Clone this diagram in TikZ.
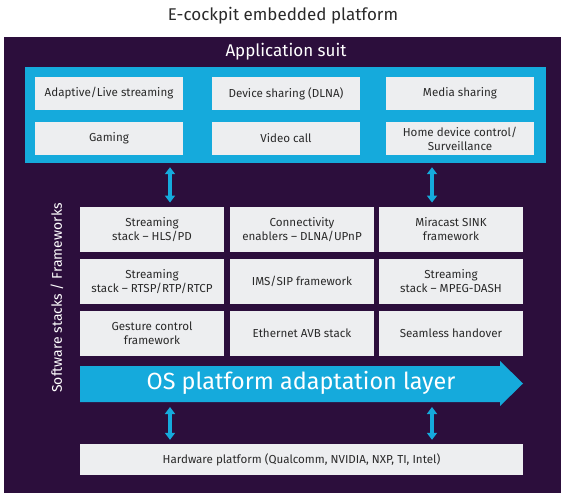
\documentclass[tikz,border=0pt]{standalone}
\usepackage{fontspec}
\setmainfont{Fira Sans}
\usetikzlibrary{arrows.meta}
\definecolor{platbg}{HTML}{2C0E3C}
\definecolor{appblue}{HTML}{15AADC}
\definecolor{boxfill}{HTML}{EDEEF0}
\definecolor{boxtext}{HTML}{2A2A2A}
\tikzset{
  stackbox/.style={fill=boxfill, text=boxtext, inner sep=0pt, align=center,
    font=\fontsize{11.6}{14}\selectfont},
  appbox/.style={stackbox, minimum width=148pt, minimum height=33pt},
  fwbox/.style={stackbox, minimum width=144pt, minimum height=45.5pt},
  biarrow/.style={draw=appblue, line width=3.5pt,
    {Triangle[width=10pt,length=7pt]}-{Triangle[width=10pt,length=7pt]}},
}
\begin{document}
\begin{tikzpicture}[x=1pt,y=-1pt]
\useasboundingbox (0,0) rectangle (561,493);

% title and platform background
\node[text=boxtext, font=\fontsize{17}{20}\selectfont] (title) at (283,16) {E-cockpit embedded platform};
\fill[platbg] (4,37) rectangle (561,493);

% application suite
\node[text=white, font=\fontsize{17}{20}\selectfont] (apptitle) at (286,52) {Application suit};
\node[fill=appblue, minimum width=521pt, minimum height=96pt, inner sep=0pt] (suite) at (285.5,115) {};
\node[appbox] (a1) at (109,93.5) {Adaptive/Live streaming};
\node[appbox] (a2) at (286,93.5) {Device sharing (DLNA)};
\node[appbox] (a3) at (460,93.5) {Media sharing};
\node[appbox] (a4) at (109,138.5) {Gaming};
\node[appbox] (a5) at (286,138.5) {Video call};
\node[appbox] (a6) at (460,138.5) {Home device control/\\Surveillance};

% software stacks / frameworks
\node[fwbox] (s1) at (152,229.5) {Streaming\\stack -- HLS/PD};
\node[fwbox] (s2) at (302,229.5) {Connectivity\\enablers -- DLNA/UPnP};
\node[fwbox] (s3) at (451,229.5) {Miracast SINK\\framework};
\node[fwbox] (s4) at (152,281.5) {Streaming\\stack -- RTSP/RTP/RTCP};
\node[fwbox] (s5) at (302,281.5) {IMS/SIP framework};
\node[fwbox] (s6) at (451,281.5) {Streaming\\stack -- MPEG-DASH};
\node[fwbox] (s7) at (152,333.25) {Gesture control\\framework};
\node[fwbox] (s8) at (302,333.25) {Ethernet AVB stack};
\node[fwbox] (s9) at (451,333.25) {Seamless handover};
\node[text=white, rotate=90, font=\fontsize{14}{16}\selectfont] (swlabel) at (57,298) {Software stacks / Frameworks};

% OS adaptation layer arrow
\fill[appblue] (80,366) -- (500,366) -- (500,361) -- (523,383.5) -- (500,406) -- (500,402) -- (80,402) -- cycle;
\node[text=white, font=\fontsize{23.4}{27}\selectfont] (oslayer) at (301,383) {OS platform adaptation layer};
\coordinate (osl) at (170,402);
\coordinate (osr) at (432,402);

% hardware platform
\node[stackbox, minimum width=443pt, minimum height=31pt] (hw) at (301.5,459.5) {Hardware platform (Qualcomm, NVIDIA, NXP, TI, Intel)};

% connectors
\draw[biarrow] ([yshift=-4pt]suite.south -| osl) -- ([yshift=4pt]s1.north -| osl);
\draw[biarrow] ([yshift=-4pt]suite.south -| osr) -- ([yshift=4pt]s3.north -| osr);
\draw[biarrow] ([yshift=-5pt]osl) -- ([yshift=4pt]hw.north -| osl);
\draw[biarrow] ([yshift=-5pt]osr) -- ([yshift=4pt]hw.north -| osr);
\end{tikzpicture}
\end{document}
